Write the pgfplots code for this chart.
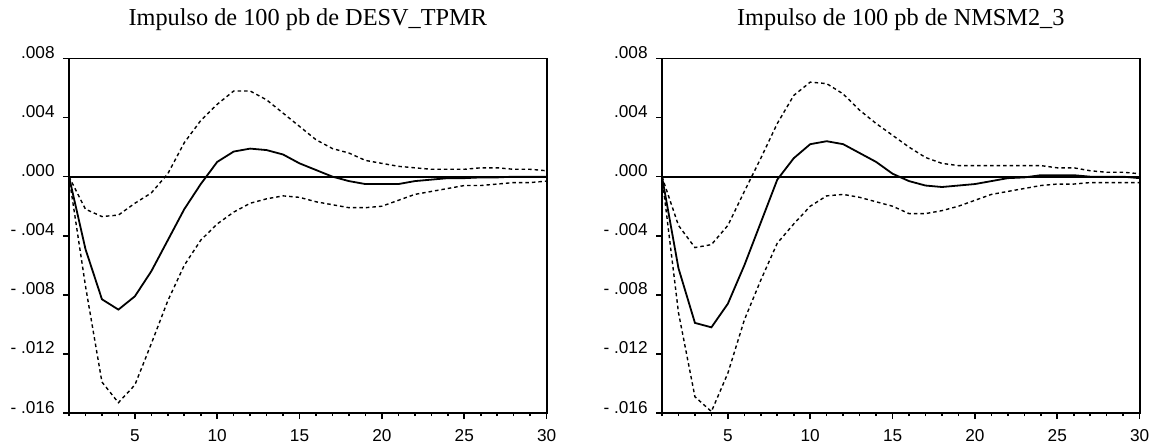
\documentclass[border=0pt]{standalone}
\usepackage{fontspec}
\setmainfont{Liberation Sans}
\newfontfamily\titlefont{Liberation Serif}
\usepackage{pgfplots}
\usepackage{pgfplotstable}
\pgfplotsset{compat=1.18}

\pgfplotstableread{
t irf up lo
1 0 0 0
2 -0.0049 -0.0022 -0.0074
3 -0.0083 -0.0027 -0.0139
4 -0.0090 -0.0026 -0.0153
5 -0.0081 -0.0018 -0.0141
6 -0.0064 -0.0011 -0.0113
7 -0.0043 0.0002 -0.0084
8 -0.0022 0.0023 -0.0060
9 -0.0005 0.0038 -0.0043
10 0.0010 0.0049 -0.0032
11 0.0017 0.0058 -0.0024
12 0.0019 0.0058 -0.0018
13 0.0018 0.0052 -0.0015
14 0.0015 0.0043 -0.0013
15 0.0009 0.0034 -0.0014
16 0.00045 0.0025 -0.0017
17 0.0000 0.0019 -0.0019
18 -0.0003 0.0016 -0.0021
19 -0.0005 0.0011 -0.0021
20 -0.0005 0.0009 -0.0020
21 -0.0005 0.0007 -0.0016
22 -0.0003 0.0006 -0.0012
23 -0.0002 0.0005 -0.0010
24 -0.0001 0.0005 -0.0008
25 -0.0001 0.0005 -0.0006
26 -0.00005 0.0006 -0.0006
27 -0.00005 0.0006 -0.0005
28 0 0.0005 -0.0004
29 0 0.0005 -0.0004
30 0 0.0004 -0.0003
}\leftdata

\pgfplotstableread{
t irf up lo
1 0 0 0
2 -0.0062 -0.0033 -0.0092
3 -0.0099 -0.0048 -0.0149
4 -0.0102 -0.0046 -0.0159
5 -0.0086 -0.0033 -0.0133
6 -0.0060 -0.0010 -0.0097
7 -0.0031 0.00125 -0.0070
8 -0.0002 0.0036 -0.0045
9 0.00125 0.0055 -0.0032
10 0.0022 0.0064 -0.0020
11 0.0024 0.0063 -0.0013
12 0.0022 0.0056 -0.0012
13 0.0016 0.0045 -0.0014
14 0.0010 0.0036 -0.0017
15 0.0002 0.0028 -0.0020
16 -0.0003 0.0020 -0.0025
17 -0.0006 0.0013 -0.0025
18 -0.0007 0.0009 -0.0023
19 -0.0006 0.00075 -0.0020
20 -0.0005 0.00075 -0.0016
21 -0.0003 0.00075 -0.0012
22 -0.0001 0.00075 -0.0010
23 -0.00005 0.00075 -0.0008
24 0.0001 0.00075 -0.0006
25 0.0001 0.0006 -0.0005
26 0.0001 0.0006 -0.0005
27 0 0.0004 -0.0004
28 0 0.0003 -0.0004
29 0 0.0003 -0.0004
30 -0.0001 0.0002 -0.0004
}\rightdata

\pgfplotsset{irfstyle/.style={
  scale only axis, width=238.8pt, height=177.25pt, anchor=south west,
  xmin=1, xmax=30, ymin=-0.016, ymax=0.008,
  scaled y ticks=false, scaled x ticks=false,
  xtick={5,10,15,20,25,30}, xticklabels={5,10,15,20,25,30},
  minor xtick={1,...,30},
  ytick={-0.016,-0.012,-0.008,-0.004,0,0.004,0.008},
  yticklabels={- .016,- .012,- .008,- .004,.000,.004,.008},
  tick pos=left, tick align=outside,
  major tick length=3pt, minor tick length=1.5pt,
  axis line style={line width=0.9pt},
  every tick/.style={black, line width=0.8pt},
  ticklabel style={font=\fontsize{8.6}{10}\selectfont},
  yticklabel style={anchor=base east, inner sep=0pt, xshift=-4pt},
  xticklabel style={anchor=north, inner sep=0pt, yshift=-5pt},
  title style={font=\titlefont\fontsize{12.15}{14}\selectfont, anchor=base, at={(0.5,1)}, yshift=10.75pt, inner sep=0pt},
  band/.style={black, line width=0.7pt, dash pattern=on 1.75pt off 1.5pt},
  irfline/.style={black, line width=0.9pt},
}}

\begin{document}
\begin{tikzpicture}
\path[use as bounding box] (0,0) rectangle (578pt,223.5pt);
\begin{axis}[irfstyle, at={(34.5pt,17pt)}, title={Impulso de 100 pb de DESV\_TPMR}]
\addplot[black, line width=0.9pt] coordinates {(1,0) (30,0)};
\addplot[band] table[x=t, y=up] {\leftdata};
\addplot[band] table[x=t, y=lo] {\leftdata};
\addplot[irfline] table[x=t, y=irf] {\leftdata};
\end{axis}
\begin{axis}[irfstyle, at={(331pt,17pt)}, title={Impulso de 100 pb de NMSM2\_3}]
\addplot[black, line width=0.9pt] coordinates {(1,0) (30,0)};
\addplot[band] table[x=t, y=up] {\rightdata};
\addplot[band] table[x=t, y=lo] {\rightdata};
\addplot[irfline] table[x=t, y=irf] {\rightdata};
\end{axis}
\end{tikzpicture}
\end{document}
